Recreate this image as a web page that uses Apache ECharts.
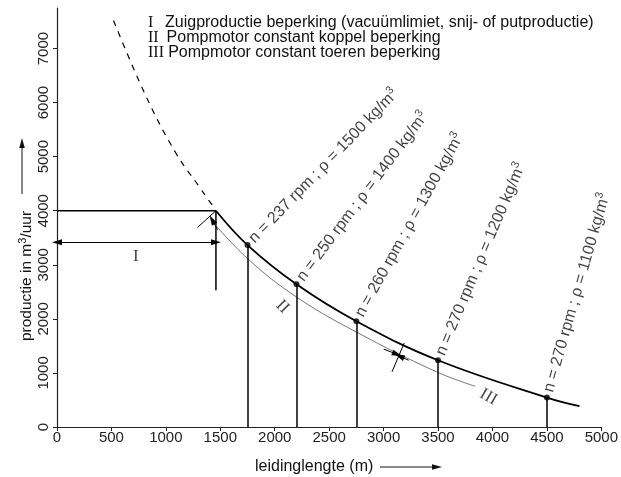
<!DOCTYPE html>
<html>
<head>
<meta charset="utf-8">
<script src="https://cdn.jsdelivr.net/npm/echarts@6/dist/echarts.min.js"></script>
<style>
html,body{margin:0;padding:0;background:#fff}
#chart{width:621px;height:477px}
</style>
</head>
<body>
<div id="chart"></div>
<script>
// axis ticks
const xTicks = [0, 500, 1000, 1500, 2000, 2500, 3000, 3500, 4000, 4500, 5000];
const yTicks = [0, 1000, 2000, 3000, 4000, 5000, 6000, 7000];

// curves (leidinglengte m, productie m3/uur)
const curveII = [[1460, 4000], [1750, 3365], [2200, 2640], [2750, 1957], [3500, 1235], [4500, 545], [4800, 385]];
const curveIII = [[1415, 3830], [1749, 3118], [2198, 2407], [2747, 1759], [3489, 1018], [3841, 754]];
const curveSuction = [[519, 7520], [819, 6111], [1093, 5063], [1307, 4444], [1392, 4198], [1440, 4070]];
const limitLine = [[0, 4000], [1460, 4000]];
const limitDrop = [[1460, 4000], [1460, 2530]];
const rangeI = [[0, 3415], [1460, 3415]];

// working points
const workPoints = [[1750, 3365], [2200, 2640], [2750, 1957], [3500, 1235], [4500, 545]];
const rpm = [237, 250, 260, 270, 270];
const density = [1500, 1400, 1300, 1200, 1100];

// roman labels on the chart
const romanNames = ['I', 'II', 'III'];
const romanPos = [[724, 3160], [2070, 2222], [3963, 556]];

// legend rows
const legendNums = ['I', 'II', 'III'];
const legendRows = [
  'Zuigproductie beperking (vacuümlimiet, snij- of putproductie)',
  'Pompmotor constant koppel beperking',
  'Pompmotor constant toeren beperking'
];

// small markers
const kinkMarker = [[1290, 3690], [1460, 4000]];
const kinkArrow = [[1475, 3650], [1425, 3830]];
const shiftMarker = [[3077, 1019], [3190, 1556]];
const shiftArrowL = [[3001, 1439], [3123, 1346]];
const shiftArrowR = [[3230, 1235], [3147, 1309]];

// label angles (style)
const labelAngles = [46, 53, 61, 67, 74];
const romanAngles = [0, -45, -30];

const SANS = 'Liberation Sans';
const SERIF = 'Liberation Serif';

const chart = echarts.init(document.getElementById('chart'), null, {renderer: 'canvas'});

const option = {
  animation: false,
  backgroundColor: '#fff',
  grid: {left: 57, right: 18, top: 8, bottom: 50, containLabel: false},
  xAxis: {
    type: 'value', min: 0, max: 5000, interval: 500,
    axisLine: {lineStyle: {color: '#222', width: 1.2}},
    axisTick: {show: true, inside: false, length: 4, lineStyle: {color: '#222'}, customValues: xTicks},
    axisLabel: {fontFamily: SANS, fontSize: 15, color: '#222', margin: 3, customValues: xTicks, formatter: v => String(v)},
    splitLine: {show: false}
  },
  yAxis: {
    type: 'value', min: 0, max: 7750, interval: 1000,
    axisLine: {show: true, lineStyle: {color: '#222', width: 1.2}},
    axisTick: {show: true, inside: false, length: 4, lineStyle: {color: '#222'}, customValues: yTicks},
    axisLabel: {fontFamily: SANS, fontSize: 15, color: '#222', rotate: 90, margin: 6, customValues: yTicks, formatter: v => String(v)},
    splitLine: {show: false}
  },
  graphic: [
    // legend
    ...legendNums.map((t, i) => ({
      type: 'text', x: 148, y: 22.5 + i * 15,
      style: {text: t, fontFamily: SERIF, fontSize: 16, fill: '#111', textVerticalAlign: 'middle'}
    })),
    ...legendRows.map((t, i) => ({
      type: 'text', x: 165 + i * 1.6, y: 22.5 + i * 15,
      style: {text: t, fontFamily: SANS, fontSize: 16, fill: '#111', textVerticalAlign: 'middle'}
    })),
    // y axis name
    {
      type: 'text', x: 27, y: 276, rotation: Math.PI / 2,
      style: {
        text: 'productie in m{sup|3}/uur', fontFamily: SANS, fontSize: 15.5, fill: '#111',
        textAlign: 'center', textVerticalAlign: 'middle', lineHeight: 20,
        rich: {sup: {fontFamily: SANS, fontSize: 11, lineHeight: 10, verticalAlign: 'top', fill: '#111'}}
      }
    },
    {type: 'line', shape: {x1: 22, y1: 194, x2: 22, y2: 146}, style: {stroke: '#111', lineWidth: 1}},
    {type: 'polygon', shape: {points: [[22, 138], [19.2, 148], [24.8, 148]]}, style: {fill: '#111'}},
    // x axis name
    {
      type: 'text', x: 255, y: 467,
      style: {text: 'leidinglengte (m)', fontFamily: SANS, fontSize: 16, fill: '#111', textVerticalAlign: 'middle'}
    },
    {type: 'line', shape: {x1: 380, y1: 467, x2: 434, y2: 467}, style: {stroke: '#111', lineWidth: 1}},
    {type: 'polygon', shape: {points: [[442, 467], [432, 464.2], [432, 469.8]]}, style: {fill: '#111'}}
  ],
  series: [
    {
      name: 'limit', type: 'line', data: limitLine, symbol: 'none',
      lineStyle: {color: '#000', width: 1.5}, silent: true,
      markLine: {
        silent: true, symbol: ['none', 'none'], symbolSize: [6, 10],
        label: {show: false}, emphasis: {disabled: true},
        lineStyle: {color: '#000', width: 1, type: 'solid'},
        data: [
          [{coord: rangeI[0], symbol: 'triangle'}, {coord: rangeI[1], symbol: 'triangle'}],
          [{coord: kinkMarker[0]}, {coord: kinkMarker[1]}],
          [{coord: kinkArrow[0]}, {coord: kinkArrow[1], symbol: 'triangle'}],
          [{coord: shiftMarker[0]}, {coord: shiftMarker[1]}],
          [{coord: shiftArrowL[0]}, {coord: shiftArrowL[1], symbol: 'triangle'}],
          [{coord: shiftArrowR[0]}, {coord: shiftArrowR[1], symbol: 'triangle'}]
        ]
      }
    },
    {
      name: 'drop', type: 'line', data: limitDrop, symbol: 'none', silent: true,
      lineStyle: {color: '#000', width: 1.5}
    },
    {
      name: 'II', type: 'line', data: curveII, symbol: 'none', smooth: 0.4, silent: true,
      lineStyle: {color: '#000', width: 1.8}
    },
    {
      name: 'III', type: 'line', data: curveIII, symbol: 'none', smooth: 0.4, silent: true,
      lineStyle: {color: '#666', width: 0.9}
    },
    {
      name: 'suction', type: 'line', data: curveSuction, symbol: 'none', smooth: 0.4, silent: true,
      lineStyle: {color: '#000', width: 1.2, type: [6, 6]}
    },
    {
      name: 'points', type: 'scatter', symbolSize: 6, silent: true, z: 5,
      itemStyle: {color: '#000'},
      data: workPoints.map((p, i) => ({value: p, label: {rotate: labelAngles[i]}})),
      label: {
        show: true, position: [3, 3], align: 'left', verticalAlign: 'middle',
        padding: [0, 0, 0, 6], fontFamily: SANS, fontSize: 16, color: '#111', lineHeight: 21,
        formatter: p => 'n = ' + rpm[p.dataIndex] + ' rpm ; \u03c1 = ' + density[p.dataIndex] + ' kg/m{sup|3}',
        rich: {sup: {fontFamily: SANS, fontSize: 11, lineHeight: 11, verticalAlign: 'top', color: '#111'}}
      },
      markLine: {
        silent: true, symbol: 'none', label: {show: false}, emphasis: {disabled: true},
        lineStyle: {color: '#000', width: 1.5, type: 'solid'},
        data: workPoints.map(p => [{coord: p}, {coord: [p[0], 0]}])
      }
    },
    {
      name: 'roman', type: 'scatter', symbolSize: 0, silent: true,
      data: romanPos.map((p, i) => ({value: p, name: romanNames[i], label: {rotate: romanAngles[i]}})),
      label: {
        show: true, position: [0, 0], align: 'center', verticalAlign: 'middle',
        fontFamily: SERIF, fontSize: 17, color: '#111', formatter: '{b}'
      }
    }
  ]
};

chart.setOption(option);
</script>
</body>
</html>
